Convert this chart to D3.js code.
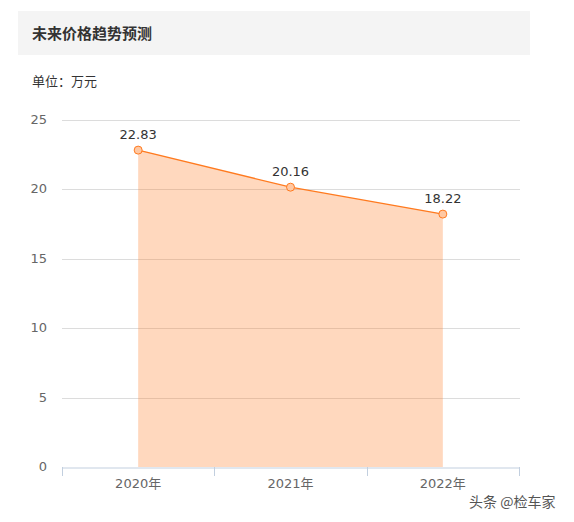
<!DOCTYPE html>
<html>
<head>
<meta charset="utf-8">
<script src="https://cdn.jsdelivr.net/npm/d3@7"></script>
<style>
  html, body { margin: 0; padding: 0; background: #fff; }
  svg { display: block; font-family: "DejaVu Sans", "Noto Sans CJK SC", sans-serif; }
  .cjk { font-family: "Noto Sans CJK SC", sans-serif; }
</style>
</head>
<body>
<svg id="chart" width="574" height="522"></svg>
<script>
// Forecast price per year (万元)
const years = ["2020年", "2021年", "2022年"];
const prices = [22.83, 20.16, 18.22];
const yTicks = [0, 5, 10, 15, 20, 25];

(function () {
  const svg = d3.select("#chart");

  // Header panel
  svg.append("rect").attr("x", 18).attr("y", 11).attr("width", 512).attr("height", 44).attr("fill", "#f4f4f4");
  svg.append("text").attr("class", "cjk").attr("x", 32).attr("y", 39).attr("fill", "#333")
    .attr("font-size", 15).attr("font-weight", "bold").text("未来价格趋势预测");
  svg.append("text").attr("class", "cjk").attr("x", 32).attr("y", 86).attr("fill", "#333")
    .attr("font-size", 13).text("单位：万元");

  const plotLeft = 62, plotRight = 519, plotTop = 120, plotBottom = 467;

  const x = d3.scaleBand().domain(years).range([plotLeft, plotRight]);
  const y = d3.scaleLinear().domain([0, 25]).range([plotBottom, plotTop]);
  const cx = d => x(d) + x.bandwidth() / 2;

  // Horizontal grid lines
  svg.append("g").selectAll("line").data(yTicks.filter(t => t > 0)).join("line")
    .attr("x1", plotLeft).attr("x2", plotRight + 1)
    .attr("y1", d => Math.round(y(d)) + 0.5).attr("y2", d => Math.round(y(d)) + 0.5)
    .attr("stroke", "#dcdcdc");

  // Y tick labels
  svg.append("g").selectAll("text").data(yTicks).join("text")
    .attr("x", 47).attr("y", d => y(d) + 4).attr("text-anchor", "end")
    .attr("fill", "#666").attr("font-size", 13).text(d => d);

  const data = years.map((c, i) => ({ c, v: prices[i] }));

  // Shaded area under the line
  svg.append("path").datum(data)
    .attr("d", d3.area().x(d => cx(d.c)).y0(plotBottom).y1(d => y(d.v)))
    .attr("fill", "#ff7f27").attr("fill-opacity", 0.3);

  // Line
  svg.append("path").datum(data)
    .attr("d", d3.line().x(d => cx(d.c)).y(d => y(d.v)))
    .attr("fill", "none").attr("stroke", "#ff7a1f").attr("stroke-width", 1.3);

  // X axis
  const xAxis = d3.axisBottom(x).tickSize(0).tickPadding(11);
  const gx = svg.append("g").attr("transform", `translate(0,${plotBottom + 0.5})`).call(xAxis);
  gx.select(".domain").attr("stroke", "#c2cfdf");
  gx.selectAll("text").attr("fill", "#666").attr("font-size", 13)
    .attr("font-family", "DejaVu Sans, Noto Sans CJK SC, sans-serif");
  // Category boundary ticks
  const bounds = years.map(c => x(c)).concat([plotRight]);
  svg.append("g").selectAll("line").data(bounds).join("line")
    .attr("x1", d => Math.round(d) + 0.5).attr("x2", d => Math.round(d) + 0.5)
    .attr("y1", plotBottom).attr("y2", plotBottom + 9)
    .attr("stroke", "#c2cfdf");

  // Points
  svg.append("g").selectAll("circle").data(data).join("circle")
    .attr("cx", d => cx(d.c)).attr("cy", d => y(d.v)).attr("r", 4)
    .attr("fill", "#ffc8a3").attr("stroke", "#ff7a1f").attr("stroke-width", 1);

  // Value labels
  svg.append("g").selectAll("text").data(data).join("text")
    .attr("x", d => cx(d.c)).attr("y", d => y(d.v) - 11).attr("text-anchor", "middle")
    .attr("fill", "#333").attr("font-size", 13)
    .text(d => d.v.toFixed(2));

  // Source mark
  svg.append("text").attr("class", "cjk").attr("x", 469).attr("y", 507).attr("fill", "#555")
    .attr("font-size", 14).attr("stroke", "#fff").attr("stroke-width", 2).attr("paint-order", "stroke")
    .text("头条 @检车家");
})();
</script>
</body>
</html>
